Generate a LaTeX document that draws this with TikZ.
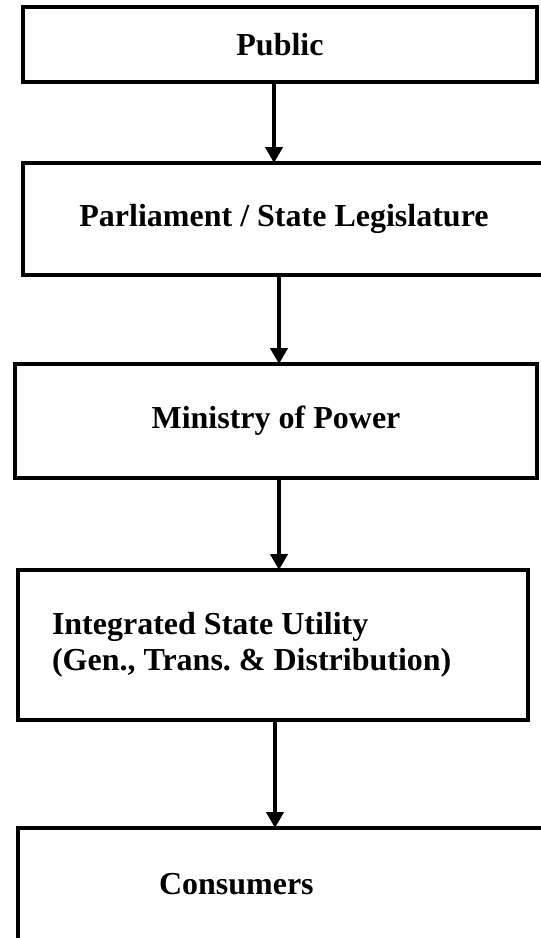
\documentclass[tikz,border=0pt]{standalone}
\usepackage{fontspec}
\setmainfont{Liberation Serif}
\usepackage{xcolor}
\usepackage{tikz}
\usetikzlibrary{arrows.meta,positioning}
\definecolor{ink}{HTML}{000000}
\definecolor{paper}{HTML}{FFFFFF}
\tikzset{
  orgbox/.style={draw=ink, line width=4.5pt, outer sep=0pt, text=ink, fill=paper, font=\bfseries\frenchspacing\fontsize{32}{36}\selectfont},
  arr/.style={-{Triangle[width=17pt,length=16pt]}, line width=4.5pt, draw=ink}
}

\begin{document}
\begin{tikzpicture}[x=1pt, y=-1pt]
  \clip (0,0) rectangle (541,938);

  \node[orgbox, minimum width=514pt, minimum height=75pt, anchor=north west] (pub) at (23,7) {Public};
  \node[orgbox, minimum width=522pt, minimum height=112pt, below=81pt of pub.south west, anchor=north west] (parl) {Parliament / State Legislature};
  \node[orgbox, minimum width=522pt, minimum height=114pt, below=89pt of parl.south west, anchor=north west, xshift=-8pt] (mop) {Ministry of Power};
  \node[orgbox, minimum width=510pt, minimum height=150pt, inner xsep=34pt, text width=442pt, align=flush left, below=92pt of mop.south west, anchor=north west, xshift=3pt] (isu) {Integrated State Utility\\(Gen., Trans. \& Distribution)};
  \node[orgbox, minimum width=527pt, minimum height=112pt, inner xsep=141pt, text width=245pt, align=flush left, below=108pt of isu.south west, anchor=north west] (cons) {Consumers};

  \draw[arr] ([xshift=-6pt]pub.south) -- ([xshift=-6pt]pub.south |- parl.north);
  \draw[arr] ([xshift=-5pt]parl.south) -- ([xshift=-5pt]parl.south |- mop.north);
  \draw[arr] ([xshift=3pt]mop.south) -- ([xshift=3pt]mop.south |- isu.north);
  \draw[arr] ([xshift=2pt]isu.south) -- ([xshift=2pt]isu.south |- cons.north);
\end{tikzpicture}
\end{document}
